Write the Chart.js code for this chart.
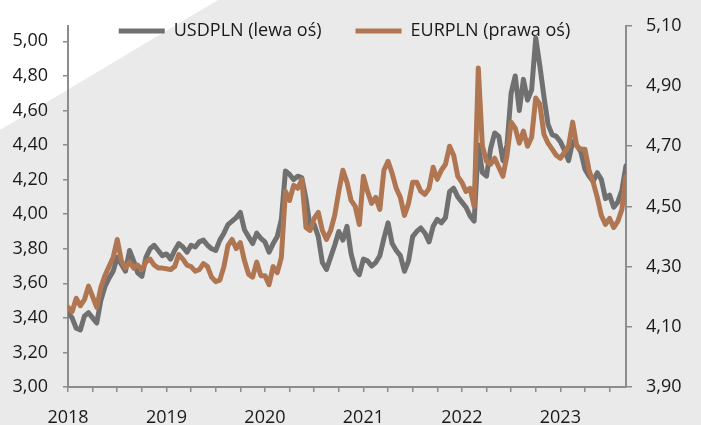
<!DOCTYPE html>
<html>
<head>
<meta charset="utf-8">
<script src="https://cdn.jsdelivr.net/npm/chart.js@4.4.1/dist/chart.umd.min.js"></script>
<style>
  html, body { margin: 0; padding: 0; background: #fff; }
  #wrap { width: 701px; height: 425px; }
</style>
</head>
<body>
<div id="wrap"><canvas id="chart" width="701" height="425"></canvas></div>
<script>
// kursy walut, punkty co pol miesiaca od stycznia 2018
var startYear = 2018;
var pointsPerYear = 24;

var usd2018 = [3.43, 3.40, 3.34, 3.33, 3.41, 3.43, 3.40, 3.37, 3.50, 3.58, 3.63, 3.67, 3.75, 3.71, 3.67, 3.79, 3.73, 3.66, 3.64, 3.75, 3.80, 3.82, 3.79, 3.76];
var usd2019 = [3.77, 3.74, 3.79, 3.83, 3.81, 3.78, 3.82, 3.81, 3.84, 3.85, 3.82, 3.80, 3.79, 3.85, 3.89, 3.94, 3.96, 3.98, 4.01, 3.91, 3.87, 3.83, 3.89, 3.86];
var usd2020 = [3.84, 3.78, 3.83, 3.87, 3.97, 4.25, 4.23, 4.20, 4.22, 4.21, 4.09, 3.93, 3.94, 3.87, 3.72, 3.68, 3.75, 3.82, 3.90, 3.85, 3.93, 3.77, 3.68, 3.65];
var usd2021 = [3.74, 3.73, 3.70, 3.72, 3.76, 3.86, 3.95, 3.83, 3.79, 3.76, 3.67, 3.73, 3.87, 3.90, 3.92, 3.89, 3.84, 3.93, 3.97, 3.95, 3.98, 4.13, 4.15, 4.10];
var usd2022 = [4.07, 4.04, 3.99, 3.96, 4.40, 4.24, 4.22, 4.38, 4.47, 4.45, 4.31, 4.40, 4.70, 4.80, 4.60, 4.78, 4.66, 4.72, 5.02, 4.86, 4.68, 4.52, 4.46, 4.45];
var usd2023 = [4.42, 4.37, 4.31, 4.42, 4.40, 4.36, 4.26, 4.22, 4.19, 4.24, 4.20, 4.09, 4.11, 4.04, 4.07, 4.14, 4.28];

var eur2018 = [4.165, 4.15, 4.195, 4.17, 4.19, 4.235, 4.20, 4.165, 4.23, 4.27, 4.30, 4.33, 4.39, 4.32, 4.295, 4.315, 4.295, 4.305, 4.29, 4.315, 4.325, 4.305, 4.295, 4.295];
var eur2019 = [4.293, 4.29, 4.30, 4.34, 4.325, 4.305, 4.30, 4.285, 4.29, 4.31, 4.30, 4.265, 4.25, 4.255, 4.30, 4.37, 4.39, 4.36, 4.38, 4.32, 4.275, 4.265, 4.315, 4.27];
var eur2020 = [4.27, 4.24, 4.30, 4.28, 4.33, 4.55, 4.52, 4.57, 4.56, 4.59, 4.43, 4.42, 4.46, 4.48, 4.42, 4.39, 4.42, 4.47, 4.55, 4.62, 4.58, 4.52, 4.50, 4.44];
var eur2021 = [4.60, 4.55, 4.51, 4.53, 4.49, 4.62, 4.65, 4.61, 4.56, 4.53, 4.47, 4.51, 4.58, 4.58, 4.55, 4.54, 4.56, 4.63, 4.59, 4.62, 4.64, 4.70, 4.67, 4.60];
var eur2022 = [4.58, 4.55, 4.56, 4.50, 4.96, 4.70, 4.65, 4.64, 4.66, 4.63, 4.60, 4.67, 4.78, 4.76, 4.71, 4.75, 4.70, 4.73, 4.86, 4.84, 4.74, 4.71, 4.69, 4.67];
var eur2023 = [4.66, 4.68, 4.70, 4.78, 4.70, 4.69, 4.69, 4.62, 4.58, 4.53, 4.47, 4.44, 4.46, 4.43, 4.45, 4.49, 4.60];

var leftTicks = [3.00, 3.20, 3.40, 3.60, 3.80, 4.00, 4.20, 4.40, 4.60, 4.80, 5.00];
var rightTicks = [3.90, 4.10, 4.30, 4.50, 4.70, 4.90, 5.10];
var yearLabels = [2018, 2019, 2020, 2021, 2022, 2023];

var usdpln = [].concat(usd2018, usd2019, usd2020, usd2021, usd2022, usd2023);
var eurpln = [].concat(eur2018, eur2019, eur2020, eur2021, eur2022, eur2023);

function toPoints(values) {
    var pts = [];
    for (var i = 0; i < values.length; i++) {
        pts.push({ x: startYear + i / pointsPerYear, y: values[i] });
    }
    return pts;
}

function plNum(v) {
    return v.toFixed(2).replace('.', ',');
}

var axisColor = '#8c8c8c';
var textColor = '#1a1a1a';
var font = { family: "'Open Sans'", size: 18 };
var legendTop = -12;

// tlo: szare z bialym trojkatem w lewym gornym rogu
var background = {
    id: 'background',
    beforeDraw: function (chart) {
        var ctx = chart.ctx;
        ctx.save();
        ctx.fillStyle = '#eaeaea';
        ctx.fillRect(0, 0, chart.width, chart.height);
        ctx.fillStyle = '#ffffff';
        ctx.beginPath();
        ctx.moveTo(0, 0);
        ctx.lineTo(218, 0);
        ctx.lineTo(0, 130);
        ctx.closePath();
        ctx.fill();
        ctx.restore();
    }
};

// legenda wewnatrz obszaru wykresu
var legendInside = {
    id: 'legendInside',
    beforeLayout: function (chart) {
        var lg = chart.legend;
        if (lg && !lg._patched) {
            var fit = lg.fit;
            lg.fit = function () { fit.call(this); this.height = 0; };
            lg._patched = true;
        }
    },
    afterLayout: function (chart) {
        var lg = chart.legend;
        lg.left = 0;
        lg.right = 689;
        lg.top = legendTop;
        lg.bottom = legendTop + 70;
    }
};

new Chart(document.getElementById('chart'), {
    type: 'line',
    data: {
        datasets: [
            {
                label: 'USDPLN (lewa oś)',
                data: toPoints(usdpln),
                yAxisID: 'y',
                borderColor: '#707070',
                backgroundColor: '#707070',
                borderWidth: 5,
                borderCapStyle: 'round',
                borderJoinStyle: 'round',
                pointRadius: 0,
                tension: 0,
                order: 2
            },
            {
                label: 'EURPLN (prawa oś)',
                data: toPoints(eurpln),
                yAxisID: 'y1',
                borderColor: '#b07652',
                backgroundColor: '#b07652',
                borderWidth: 5,
                borderCapStyle: 'round',
                borderJoinStyle: 'round',
                pointRadius: 0,
                tension: 0,
                order: 1
            }
        ]
    },
    options: {
        responsive: false,
        animation: false,
        devicePixelRatio: 1,
        layout: { padding: { left: 0, right: 0, top: 23, bottom: 0 } },
        plugins: {
            tooltip: { enabled: false },
            legend: {
                position: 'top',
                labels: {
                    usePointStyle: true,
                    pointStyle: 'line',
                    boxWidth: 46,
                    pointStyleWidth: 46,
                    padding: 34,
                    color: textColor,
                    font: font,
                    sort: function (a, b) { return a.datasetIndex - b.datasetIndex; }
                }
            }
        },
        scales: {
            x: {
                type: 'linear',
                min: startYear,
                max: startYear + (usdpln.length - 1) / pointsPerYear,
                afterFit: function (scale) { scale.height = 38; },
                border: { display: true, color: axisColor, width: 2 },
                grid: { drawOnChartArea: false, drawTicks: true, tickLength: 5, tickColor: axisColor, lineWidth: 1.5 },
                ticks: {
                    stepSize: 0.25,
                    includeBounds: false,
                    autoSkip: false,
                    maxRotation: 0,
                    padding: 15,
                    color: textColor,
                    font: font,
                    callback: function (v) {
                        var y = Math.round(v);
                        if (Math.abs(v - y) < 0.01 && yearLabels.indexOf(y) >= 0) return String(y);
                        return '';
                    }
                }
            },
            y: {
                position: 'left',
                min: leftTicks[0],
                max: 5.09,
                afterFit: function (scale) { scale.width = 68; },
                afterBuildTicks: function (scale) {
                    scale.ticks = leftTicks.map(function (v) { return { value: v }; });
                },
                border: { display: true, color: axisColor, width: 2 },
                grid: { drawOnChartArea: false, drawTicks: true, tickLength: 5, tickColor: axisColor, lineWidth: 1.5 },
                ticks: {
                    padding: 15,
                    color: textColor,
                    font: font,
                    callback: function (v) { return plNum(v); }
                }
            },
            y1: {
                position: 'right',
                min: rightTicks[0],
                max: rightTicks[rightTicks.length - 1],
                afterFit: function (scale) { scale.width = 75; },
                afterBuildTicks: function (scale) {
                    scale.ticks = rightTicks.map(function (v) { return { value: v }; });
                },
                border: { display: true, color: axisColor, width: 2 },
                grid: { drawOnChartArea: false, drawTicks: true, tickLength: 6, tickColor: axisColor, lineWidth: 1.5 },
                ticks: {
                    padding: 14,
                    color: textColor,
                    font: font,
                    callback: function (v) { return plNum(v); }
                }
            }
        }
    },
    plugins: [background, legendInside]
});
</script>
</body>
</html>
